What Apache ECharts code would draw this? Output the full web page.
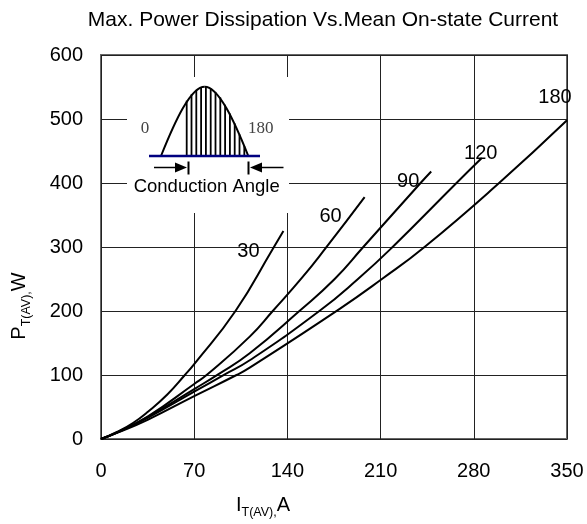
<!DOCTYPE html>
<html>
<head>
<meta charset="utf-8">
<script src="https://cdn.jsdelivr.net/npm/echarts@6/dist/echarts.min.js"></script>
<style>html,body{margin:0;padding:0;background:#fff}#c{width:587px;height:524px}</style>
</head>
<body>
<div id="c"></div>
<script>
// ---- data ----
const xTicks = [0, 70, 140, 210, 280, 350];
const yTicks = [0, 100, 200, 300, 400, 500, 600];
const angleNames = ['30', '60', '90', '120', '180'];
const curve30  = [[0,0],[12,11],[24,25],[35.5,43],[50,70],[63,100],[70,117],[101,200],[129,297],[137,325]];
const curve60  = [[0,0],[12,10.5],[35,35],[70,86],[80,101],[111.7,160],[129,200],[151,252],[169,299],[198,378]];
const curve90  = [[0,0],[12,10],[35,34],[70,78],[88,101],[111.7,134],[149,200],[175.5,250],[197,300],[240,400],[248,418]];
const curve120 = [[0,0],[12,10],[35,33],[70,74],[93,101],[111.7,123],[164,200],[193,250],[219,300],[267,400],[286,439]];
const curve180 = [[0,0],[12,9.5],[35,30],[70,67],[101.8,100],[111.7,111.5],[179,203],[211,250],[243,300],[299,400],[350,498]];
const curves = [curve30, curve60, curve90, curve120, curve180];

// ---- styling ----
const FONT = "'Liberation Sans', Arial, sans-serif";
const labelOffsets = [[-35,20],[-34,19],[-23,10],[-1,-5],[-12,-23]];
const rich = {
  m: {fontSize: 20, lineHeight: 28, fontFamily: FONT, color: '#000'},
  s: {fontSize: 12.5, lineHeight: 13, fontFamily: FONT, color: '#000', verticalAlign: 'bottom'}
};

// inset icon geometry (decoration)
const sx0 = 161, sx1 = 248.3, sBase = 156, sH = 69.3;
const hatch = [];
for (let x = 186.7; x <= 244.5; x += 4.8) {
  const top = sBase - sH * Math.sin(Math.PI * (x - sx0) / (sx1 - sx0));
  hatch.push({type: 'line', z: 101, shape: {x1: x, y1: sBase, x2: x, y2: top}, style: {stroke: '#000', lineWidth: 1.8}});
}
const qw = (sx1 - sx0) / 2, mid = sx0 + qw;

const graphics = [
  {type: 'rect', z: 100, shape: {x: 127, y: 77, width: 162, height: 136}, style: {fill: '#fff'}},
  ...hatch,
  {type: 'bezierCurve', z: 102, shape: {x1: sx0, y1: sBase, cpx1: sx0 + 0.326*qw, cpy1: sBase - 0.512*sH, cpx2: sx0 + 0.682*qw, cpy2: sBase - sH, x2: mid, y2: sBase - sH}, style: {stroke: '#000', lineWidth: 2, fill: null}},
  {type: 'bezierCurve', z: 102, shape: {x1: mid, y1: sBase - sH, cpx1: mid + 0.318*qw, cpy1: sBase - sH, cpx2: mid + 0.674*qw, cpy2: sBase - 0.512*sH, x2: sx1, y2: sBase}, style: {stroke: '#000', lineWidth: 2, fill: null}},
  {type: 'line', z: 103, shape: {x1: 149, y1: sBase, x2: 260, y2: sBase}, style: {stroke: '#000080', lineWidth: 2.5}},
  {type: 'line', z: 102, shape: {x1: 154, y1: 167.5, x2: 177, y2: 167.5}, style: {stroke: '#000', lineWidth: 1.5}},
  {type: 'polygon', z: 102, shape: {points: [[187,167.5],[175,162.5],[175,172.5]]}, style: {fill: '#000'}},
  {type: 'line', z: 102, shape: {x1: 188.5, y1: 161.5, x2: 188.5, y2: 174.5}, style: {stroke: '#000', lineWidth: 2}},
  {type: 'line', z: 102, shape: {x1: 248.5, y1: 161.5, x2: 248.5, y2: 174.5}, style: {stroke: '#000', lineWidth: 2}},
  {type: 'polygon', z: 102, shape: {points: [[250,167.5],[262,162.5],[262,172.5]]}, style: {fill: '#000'}},
  {type: 'line', z: 102, shape: {x1: 261, y1: 167.5, x2: 283.5, y2: 167.5}, style: {stroke: '#000', lineWidth: 1.5}},
  {type: 'text', z: 104, x: 145, y: 129, style: {text: '0', fontFamily: "'Liberation Serif', 'Times New Roman', serif", fontSize: 17, fill: '#444', align: 'center', verticalAlign: 'middle'}},
  {type: 'text', z: 104, x: 260.7, y: 129, style: {text: '180', fontFamily: "'Liberation Serif', 'Times New Roman', serif", fontSize: 17, fill: '#444', align: 'center', verticalAlign: 'middle'}},
  {type: 'text', z: 104, x: 206.7, y: 187, style: {text: 'Conduction Angle', fontFamily: FONT, fontSize: 18.5, fill: '#000', align: 'center', verticalAlign: 'middle'}}
];

const chart = echarts.init(document.getElementById('c'));
chart.setOption({
  animation: false,
  backgroundColor: '#fff',
  title: {
    text: 'Max. Power Dissipation Vs.Mean On-state Current',
    left: 318, top: 5, textAlign: 'center',
    textStyle: {fontFamily: FONT, fontSize: 21, fontWeight: 'normal', color: '#000'}
  },
  grid: {left: 101, right: 20, top: 55, bottom: 83, show: true, borderColor: '#666', borderWidth: 2, backgroundColor: 'transparent'},
  xAxis: {
    type: 'value', min: xTicks[0], max: xTicks[xTicks.length - 1], interval: xTicks[1] - xTicks[0],
    axisLine: {show: false}, axisTick: {show: false},
    splitLine: {show: true, lineStyle: {color: '#222', width: 1}},
    axisLabel: {fontFamily: FONT, fontSize: 20, color: '#000', margin: 22},
    name: '{m|I}{s|T(AV),}{m|A}', nameLocation: 'middle', nameGap: 52,
    nameTextStyle: {rich: rich, padding: [0, 142, 0, 0]}
  },
  yAxis: {
    type: 'value', min: yTicks[0], max: yTicks[yTicks.length - 1], interval: yTicks[1] - yTicks[0],
    axisLine: {show: false}, axisTick: {show: false},
    splitLine: {show: true, lineStyle: {color: '#222', width: 1}},
    axisLabel: {fontFamily: FONT, fontSize: 20, color: '#000', margin: 18},
    name: '{m|P}{s|T(AV),}{m|W}', nameLocation: 'middle', nameGap: 68, nameRotate: 90,
    nameTextStyle: {rich: rich, padding: [0, 118, 0, 0]}
  },
  series: curves.map((d, i) => ({
    type: 'line', name: angleNames[i], data: d, smooth: 0.5, showSymbol: false, symbol: 'none',
    lineStyle: {color: '#000', width: 2},
    endLabel: {
      show: true, formatter: angleNames[i], distance: 0, offset: labelOffsets[i],
      align: 'center', verticalAlign: 'middle',
      fontFamily: FONT, fontSize: 20, color: '#000'
    }
  })),
  graphic: graphics
});
</script>
</body>
</html>
